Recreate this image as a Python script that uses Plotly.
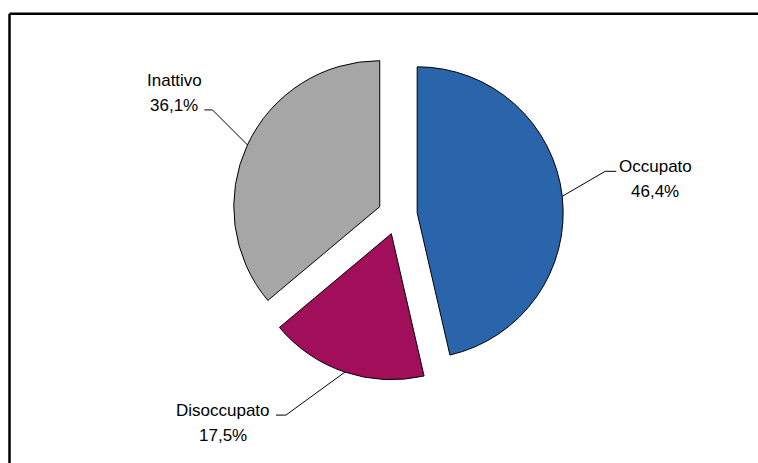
import math
import plotly.graph_objects as go

# ---- data ----
categories = ["Occupato", "Disoccupato", "Inattivo"]
values = [46.4, 17.5, 36.1]
colors = ["#2A64AB", "#A10F5A", "#A6A6A6"]

# ---- layout constants (figure pixels) ----
W, H = 758, 463
PULL = 0.135
PIE_CX, PIE_CY, PIE_HALF_W, PIE_HALF_H = 397.6, 215.0, 200.0, 165.7
DOM_X = [(PIE_CX - PIE_HALF_W) / W, (PIE_CX + PIE_HALF_W) / W]
DOM_Y = [1 - (PIE_CY + PIE_HALF_H) / H, 1 - (PIE_CY - PIE_HALF_H) / H]
FONT = "Liberation Sans, Arial, sans-serif"
FSIZE = 17
LINE_GAP = 25

# label leader-line styling offsets (px): elbow offset, horizontal tail, text centre offset from tail end
label_style = {
    "Occupato": dict(elbow=(43, -25), tail=11, text=(39, -5)),
    "Disoccupato": dict(elbow=(-59, 43), tail=-10, text=(-53, -5)),
    "Inattivo": dict(elbow=(-35, -35), tail=-8, text=(-30, -29)),
}

fig = go.Figure(go.Pie(
    labels=categories, values=values, sort=False, direction="clockwise", rotation=0,
    pull=[PULL] * len(values), domain=dict(x=DOM_X, y=DOM_Y),
    marker=dict(colors=colors, line=dict(color="black", width=1)),
    textinfo="none", hoverinfo="skip", showlegend=False,
))

# geometry replicating plotly's pie sizing
box_w = W * (DOM_X[1] - DOM_X[0])
box_h = H * (DOM_Y[1] - DOM_Y[0])
r = min(box_w, box_h) / 2 / (1 + PULL)
cx = W * (DOM_X[0] + DOM_X[1]) / 2
cy = H * (1 - DOM_Y[0]) - box_h / 2


def px2paper(x, y):
    return x / W, 1 - y / H


total = sum(values)
cum = 0.0
shapes = []
annotations = []
for cat, v in zip(categories, values):
    mid = (cum + v / 2) / total * 2 * math.pi
    cum += v
    ux, uy = math.sin(mid), -math.cos(mid)
    px, py = cx + (1 + PULL) * r * ux, cy + (1 + PULL) * r * uy
    st = label_style[cat]
    ex, ey = px + st["elbow"][0], py + st["elbow"][1]
    tx = ex + st["tail"]
    pts = [px2paper(px, py), px2paper(ex, ey), px2paper(tx, ey)]
    path = "M {} {} L {} {} L {} {}".format(*[c for p in pts for c in p])
    shapes.append(dict(type="path", xref="paper", yref="paper", path=path,
                       line=dict(color="black", width=1)))
    pct = f"{v:.1f}".replace(".", ",") + "%"
    tcx, tcy = tx + st["text"][0], ey + st["text"][1]
    for k, line in enumerate([cat, pct]):
        ax, ay = px2paper(tcx, tcy + k * LINE_GAP)
        annotations.append(dict(
            xref="paper", yref="paper", x=ax, y=ay, xanchor="center", yanchor="middle",
            text=line, showarrow=False,
            font=dict(family=FONT, size=FSIZE, color="black"),
        ))

# outer frame: left and top edges, running to the figure border
fl, ft = px2paper(9.5, 13.8)
shapes.append(dict(type="line", xref="paper", yref="paper", x0=fl, y0=0, x1=fl, y1=ft,
                   line=dict(color="black", width=2.5), layer="above"))
shapes.append(dict(type="line", xref="paper", yref="paper", x0=fl, y0=ft, x1=1, y1=ft,
                   line=dict(color="black", width=2.5), layer="above"))

fig.update_layout(
    width=W, height=H, margin=dict(l=0, r=0, t=0, b=0),
    paper_bgcolor="white", plot_bgcolor="white",
    shapes=shapes, annotations=annotations,
)

fig.write_html(
    "out.html",
    config={"displayModeBar": False},
    post_script="document.body.style.margin='0';document.body.style.overflow='hidden';",
)
